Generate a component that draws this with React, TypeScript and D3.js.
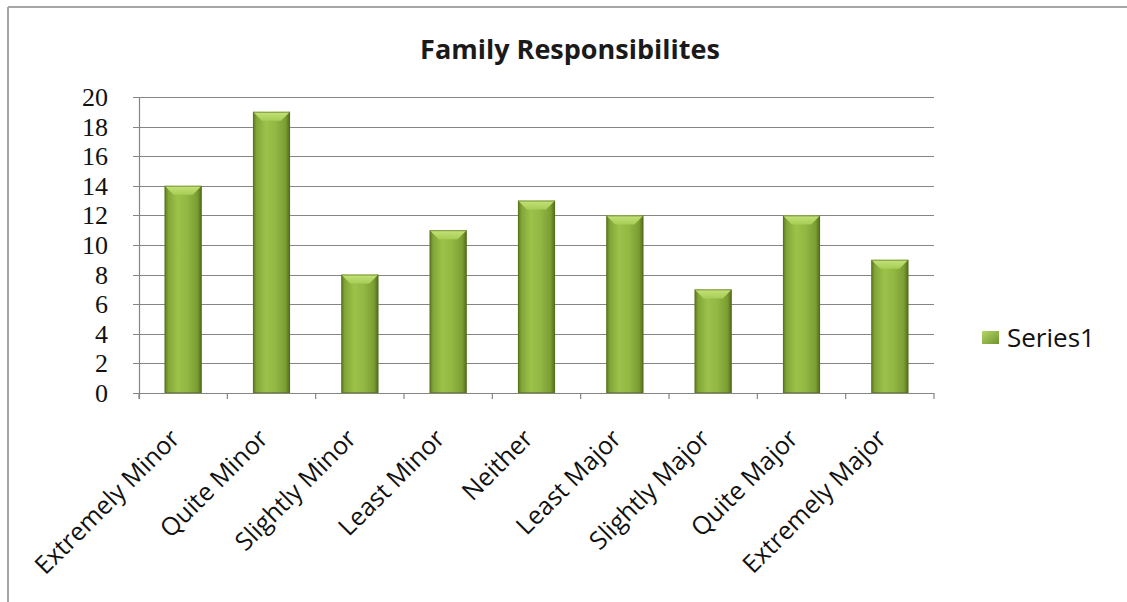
import React from "react";
import * as d3 from "d3";

const categories = [
  "Extremely Minor",
  "Quite Minor",
  "Slightly Minor",
  "Least Minor",
  "Neither",
  "Least Major",
  "Slightly Major",
  "Quite Major",
  "Extremely Major",
];
const series1 = [14, 19, 8, 11, 13, 12, 7, 12, 9];
const yTicks = [0, 2, 4, 6, 8, 10, 12, 14, 16, 18, 20];
const seriesName = "Series1";
const title = "Family Responsibilites";

export default function App() {
  const W = 1127, H = 602;
  const left = 139, right = 934, top = 97, bottom = 393;
  const x = d3.scaleBand<string>().domain(categories).range([left, right]).paddingInner(0.58).paddingOuter(0.29);
  const y = d3.scaleLinear().domain([0, 20]).range([bottom, top]);
  const bw = x.bandwidth();
  const boundaries = d3.range(categories.length + 1).map((i) => left + i * ((right - left) / categories.length));

  return (
    <svg width={W} height={H} style={{ position: "absolute", left: 0, top: 0, background: "#fff" }}>
      <defs>
        <linearGradient id="barG" x1="0" x2="1" y1="0" y2="0">
          <stop offset="0" stopColor="#5a771f" />
          <stop offset="0.1" stopColor="#83a638" />
          <stop offset="0.35" stopColor="#9cc24a" />
          <stop offset="0.6" stopColor="#93b843" />
          <stop offset="0.88" stopColor="#7b9e33" />
          <stop offset="1" stopColor="#4f6a1a" />
        </linearGradient>
        <linearGradient id="topG" x1="0" x2="0" y1="0" y2="1">
          <stop offset="0" stopColor="#c4e27a" />
          <stop offset="1" stopColor="#a8cd55" />
        </linearGradient>
        <linearGradient id="legG" x1="0" x2="1" y1="0" y2="1">
          <stop offset="0" stopColor="#b5d86a" />
          <stop offset="1" stopColor="#6f922c" />
        </linearGradient>
      </defs>
      <rect x={0} y={0} width={W} height={H} fill="#fff" />
      <line x1={8} y1={7} x2={W} y2={7} stroke="#a6a6a6" strokeWidth={2} />
      <line x1={8} y1={7} x2={8} y2={H} stroke="#a6a6a6" strokeWidth={2} />

      <text x={570} y={59} textAnchor="middle" fontFamily="'Open Sans', sans-serif" fontWeight="bold" fontSize={27} fill="#1a1a1a">
        {title}
      </text>

      {yTicks.map((t) => (
        <g key={t}>
          <line x1={left - 6} x2={right} y1={Math.round(y(t)) + 0.5} y2={Math.round(y(t)) + 0.5} stroke="#858585" strokeWidth={1.2} />
          <text x={108} y={y(t) + 9} textAnchor="end" fontFamily="'Liberation Serif', serif" fontSize={26} fill="#111">
            {t}
          </text>
        </g>
      ))}
      <line x1={left + 0.5} x2={left + 0.5} y1={top} y2={bottom + 6} stroke="#858585" strokeWidth={1.2} />
      {boundaries.map((b, i) => (
        <line key={i} x1={b} x2={b} y1={bottom} y2={bottom + 6} stroke="#858585" strokeWidth={1.2} />
      ))}

      {categories.map((c, i) => {
        const x0 = x(c)!;
        const y0 = y(series1[i]);
        const bev = 9;
        return (
          <g key={c}>
            <rect x={x0} y={y0} width={bw} height={bottom - y0} fill="url(#barG)" />
            <path
              d={`M${x0},${y0} L${x0 + bw},${y0} L${x0 + bw - bev},${y0 + bev} L${x0 + bev},${y0 + bev} Z`}
              fill="url(#topG)"
            />
            <rect x={x0 + 0.5} y={y0 + 0.5} width={bw - 1} height={bottom - y0 - 1} fill="none" stroke="#55701d" strokeWidth={1} strokeOpacity={0.6} />
          </g>
        );
      })}

      {categories.map((c, i) => {
        const cx = x(c)! + bw / 2 - 2;
        const cy = bottom + 47;
        return (
          <text
            key={c}
            transform={`translate(${cx},${cy}) rotate(-45)`}
            textAnchor="end"
            fontFamily="'Open Sans', sans-serif"
            fontSize={25}
            fill="#111"
          >
            {c}
          </text>
        );
      })}

      <rect x={982} y={331} width={17} height={13} fill="url(#legG)" />
      <text x={1007} y={347} fontFamily="'Open Sans', sans-serif" fontSize={26} fill="#111">
        {seriesName}
      </text>
    </svg>
  );
}
